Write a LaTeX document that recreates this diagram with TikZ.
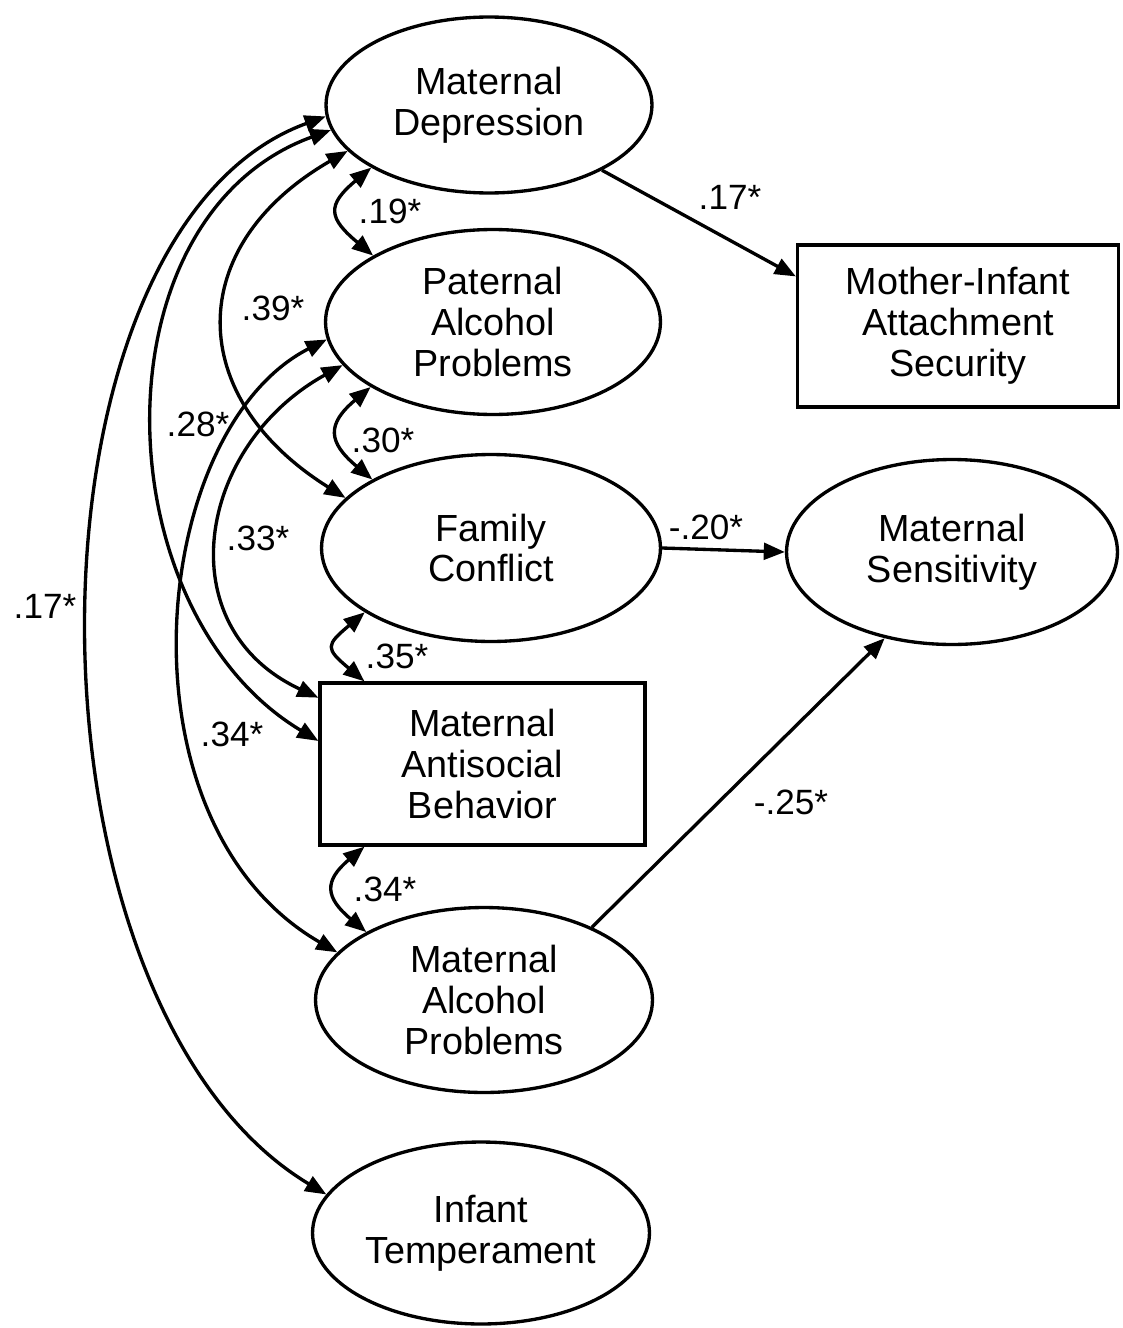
\documentclass[tikz,border=0pt]{standalone}
\usepackage{fontspec}
\setmainfont{Liberation Sans}
\usetikzlibrary{shapes.geometric,arrows.meta}
\begin{document}
\begin{tikzpicture}[x=0.02cm,y=0.02cm,
  every node/.style={font=\fontsize{21.5}{23.3}\selectfont, align=center},
  latent/.style={draw, ellipse, line width=1.9pt, minimum width=6.7cm, minimum height=3.7cm, inner sep=0pt},
  observed/.style={draw, rectangle, line width=1.9pt, minimum width=6.5cm, minimum height=3.24cm},
  direct/.style={-{Triangle[length=12pt,width=9.5pt]}, line width=1.9pt},
  cov/.style={{Triangle[length=12pt,width=9.5pt]}-{Triangle[length=12pt,width=9.5pt]}, line width=1.9pt},
  coef/.style={font=\fontsize{20}{22}\selectfont}]
\useasboundingbox (0,0) rectangle (1122,-1328);
\node[latent, minimum width=6.52cm, minimum height=3.52cm] (md) at (489,-105) {Maternal\\Depression};
\node[latent] (pap) at (493,-322) {Paternal\\Alcohol\\Problems};
\node[latent, minimum width=6.78cm, minimum height=3.74cm] (fc) at (491,-548) {Family\\Conflict};
\node[observed] (mab) at (482.5,-764) {Maternal\\Antisocial\\Behavior};
\node[latent, minimum width=6.74cm] (map) at (484,-1000) {Maternal\\Alcohol\\Problems};
\node[latent, minimum width=6.74cm, minimum height=3.64cm] (it) at (481,-1233) {Infant\\Temperament};
\node[observed, minimum width=6.42cm] (mias) at (958,-326) {Mother-Infant\\Attachment\\Security};
\node[latent, minimum width=6.62cm] (ms) at (952,-552) {Maternal\\Sensitivity};
% paths
\draw[direct] (md.-30) -- (mias.163);
\draw[direct] (fc.east) -- (ms.west);
\draw[direct] (map.34) -- (ms.232);
% neighbouring correlations
\draw[cov] (md.208) to[out=220,in=140,looseness=1.7] (pap.151);
\draw[cov] (pap.208) to[out=220,in=140,looseness=1.6] (fc.150);
\draw[cov] (fc.207) to[out=220,in=140,looseness=1.9] (mab.145);
\draw[cov] (mab.215) to[out=220,in=140,looseness=1.6] (map.150);
% long correlations
\draw[cov] (md.184) to[out=200,in=149,out distance=6.72cm,in distance=7.38cm] (it.166);
\draw[cov] (md.189) to[out=200,in=149,out distance=5.06cm,in distance=5.06cm] (mab.172);
\draw[cov] (md.198) to[out=210,in=148,out distance=3.8cm,in distance=3.8cm] (fc.161);
\draw[cov] (pap.186) to[out=207,in=150,out distance=4cm,in distance=5.2cm] (map.162);
\draw[cov] (pap.196) to[out=209,in=155,out distance=3.34cm,in distance=3.34cm] (mab.158);
% coefficients
\node[coef] (c1) at (730,-197) {.17*};
\node[coef] (c2) at (706,-527) {-.20*};
\node[coef] (c3) at (791,-802) {-.25*};
\node[coef] (c4) at (390,-211) {.19*};
\node[coef] (c5) at (383,-440) {.30*};
\node[coef] (c6) at (397,-656) {.35*};
\node[coef] (c7) at (385,-889) {.34*};
\node[coef] (c8) at (273,-308) {.39*};
\node[coef] (c9) at (198,-424) {.28*};
\node[coef] (c10) at (258,-538) {.33*};
\node[coef] (c11) at (232,-734) {.34*};
\node[coef] (c12) at (45,-606) {.17*};
\end{tikzpicture}
\end{document}
